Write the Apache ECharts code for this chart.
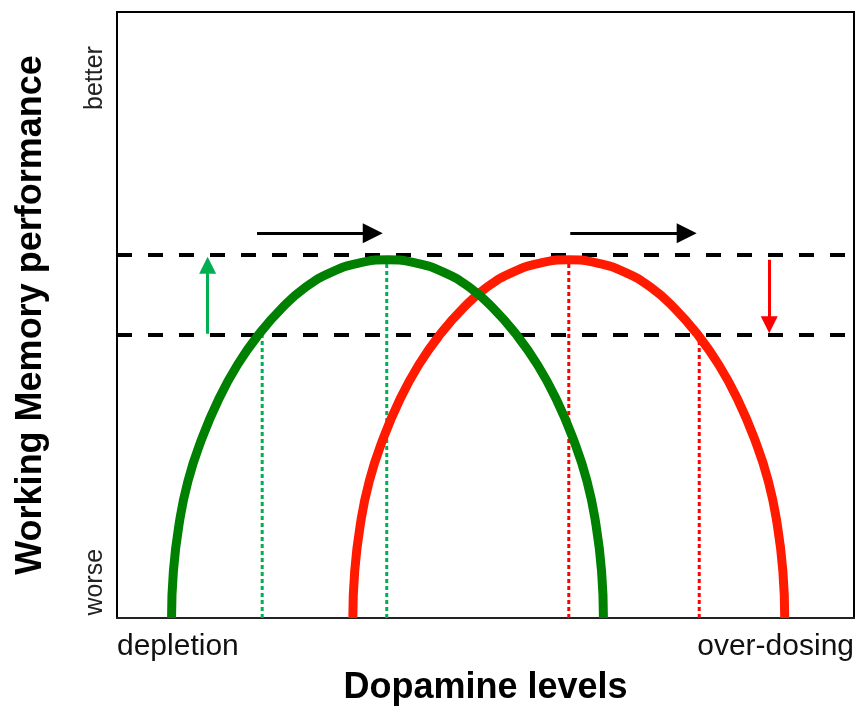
<!DOCTYPE html>
<html>
<head>
<meta charset="utf-8">
<script src="https://cdn.jsdelivr.net/npm/echarts@6/dist/echarts.min.js"></script>
<style>
  html, body { margin: 0; padding: 0; background: #fff; }
  #chart { width: 859px; height: 709px; }
</style>
</head>
<body>
<div id="chart"></div>
<script>
// inverted-U curves: x = dopamine level, y = working memory performance (both 0..100)
const curveY = [0, 7.71, 15.3, 22.6, 29.55, 35.98, 41.79, 46.89, 51.18, 54.6, 57.09, 58.59, 59.1,
  58.59, 57.09, 54.6, 51.18, 46.89, 41.79, 35.98, 29.55, 22.6, 15.3, 7.71, 0];
const greenX = [7.4, 7.65, 8.4, 9.63, 11.5, 13.75, 16.35, 19.3, 22.4, 25.6, 29.12, 32.88, 36.7,
  40.52, 44.28, 47.8, 51.0, 54.1, 57.05, 59.65, 61.9, 63.77, 65.0, 65.75, 66.0];
const redX = [32.0, 32.25, 33.0, 34.23, 36.1, 38.35, 40.95, 43.9, 47.0, 50.2, 53.72, 57.48, 61.3,
  65.12, 68.88, 72.4, 75.6, 78.7, 81.65, 84.25, 86.5, 88.37, 89.6, 90.35, 90.6];

// horizontal reference levels
const levels = [59.9, 46.7];

// vertical guides [x, top]
const greenGuides = [[19.7, 46.7], [36.6, 59.1]];
const redGuides = [[61.3, 59.1], [79.0, 46.7]];

// arrows [x1, y1, x2, y2]
const shiftArrows = [[19.0, 63.5, 34.7, 63.5], [61.5, 63.5, 77.3, 63.5]];
const greenArrow = [12.3, 46.9, 12.3, 58.2];
const redArrow = [88.5, 59.1, 88.5, 48.4];

const xLabels = { 0: "depletion", 100: "over-dosing" };
const yLabelValues = [5.9, 89.1];
const yLabels = { 5.9: "worse", 89.1: "better" };

const font = "Liberation Sans, Arial, sans-serif";

function pairs(xs, ys) {
  let out = [];
  for (let i = 0; i < xs.length; i++) {
    out.push([xs[i], ys[i]]);
  }
  return out;
}

function guideSeries(list, color) {
  return list.map((g) => ({
    type: "line",
    data: [[g[0], 0], [g[0], g[1]]],
    symbol: "none",
    silent: true,
    z: 1,
    lineStyle: { color: color, width: 3, type: [4, 3] },
  }));
}

function arrowSeries(a, color, width, size) {
  return {
    type: "lines",
    coordinateSystem: "cartesian2d",
    symbol: ["none", "triangle"],
    symbolSize: size,
    silent: true,
    z: 5,
    lineStyle: { color: color, width: width, opacity: 1 },
    data: [{ coords: [[a[0], a[1]], [a[2], a[3]]] }],
  };
}

const chart = echarts.init(document.getElementById("chart"));

let series = [];
levels.forEach((v) => {
  series.push({
    type: "line",
    data: [[0, v], [100, v]],
    symbol: "none",
    silent: true,
    z: 2,
    lineStyle: { color: "#000", width: 4, type: [15, 16] },
  });
});
series = series.concat(guideSeries(greenGuides, "#00b050"));
series = series.concat(guideSeries(redGuides, "#ff0000"));
series.push({
  type: "line",
  data: pairs(redX, curveY),
  smooth: 0.5,
  symbol: "none",
  z: 3,
  lineStyle: { color: "#ff1a00", width: 9 },
});
series.push({
  type: "line",
  data: pairs(greenX, curveY),
  smooth: 0.5,
  symbol: "none",
  z: 4,
  lineStyle: { color: "#008000", width: 9 },
});
shiftArrows.forEach((a) => series.push(arrowSeries(a, "#000", 3, 20)));
series.push(arrowSeries(greenArrow, "#00b050", 3, 17));
series.push(arrowSeries(redArrow, "#ff0000", 3, 17));

const option = {
  animation: false,
  grid: {
    left: 117, right: 5, top: 12, bottom: 91,
    outerBoundsMode: "none",
    show: true, borderColor: "#000", borderWidth: 2,
  },
  xAxis: {
    type: "value",
    min: 0, max: 100, interval: 100,
    name: "Dopamine levels",
    nameLocation: "middle",
    nameGap: 52,
    nameTextStyle: { fontFamily: font, fontSize: 36, fontWeight: "bold", color: "#000" },
    axisLine: { lineStyle: { color: "#222", width: 2 } },
    axisTick: { show: false },
    splitLine: { show: false },
    axisLabel: {
      margin: 14,
      fontFamily: font, fontSize: 30, color: "#111",
      alignMinLabel: "left", alignMaxLabel: "right",
      formatter: (v) => xLabels[v] || "",
    },
  },
  yAxis: {
    type: "value",
    min: 0, max: 100,
    name: "Working Memory performance",
    nameLocation: "middle",
    nameRotate: 90,
    nameGap: 68,
    nameTextStyle: { fontFamily: font, fontSize: 36, fontWeight: "bold", color: "#000" },
    axisLine: { lineStyle: { color: "#000", width: 2 } },
    axisTick: { show: false },
    splitLine: { show: false },
    axisLabel: {
      customValues: yLabelValues,
      rotate: 90,
      margin: 9,
      fontFamily: font, fontSize: 25, color: "#222",
      formatter: (v) => yLabels[v] || "",
    },
  },
  series: series,
};

chart.setOption(option);
</script>
</body>
</html>
